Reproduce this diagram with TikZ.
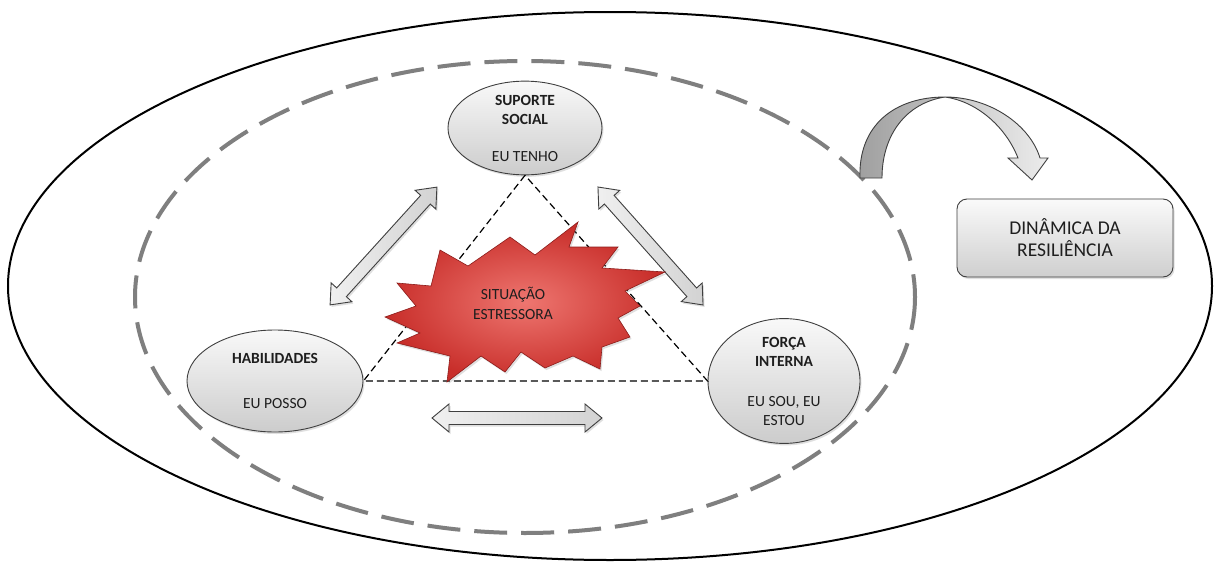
\documentclass[tikz,border=0pt]{standalone}
\usepackage{fontspec}
\setmainfont{Carlito}
\usetikzlibrary{shapes.geometric,shadows}

\definecolor{ink}{HTML}{1E1E1E}
\definecolor{rimgray}{HTML}{3F3F3F}
\definecolor{dashgray}{HTML}{7F7F7F}
\definecolor{burstlight}{RGB}{238,118,112}
\definecolor{burstdark}{RGB}{200,46,42}
\definecolor{burstedge}{RGB}{140,28,26}

\tikzset{
  softshadow/.style={drop shadow={opacity=0.25,shadow xshift=1.5pt,shadow yshift=-2pt}},
  pillar/.style={ellipse, draw=rimgray, line width=0.9pt, top color=gray!5,
    bottom color=gray!40, softshadow, text=ink, align=center, inner sep=0pt,
    font=\fontsize{15.5}{19}\selectfont},
  arrowrim/.style={draw=rimgray, line width=0.9pt, left color=gray!12,
    right color=gray!35, softshadow},
  pics/twoway/.style={code={
    \path[arrowrim] ({-#1/2},0) -- ({-#1/2+17},14) -- ({-#1/2+17},6.5)
      -- ({#1/2-17},6.5) -- ({#1/2-17},14) -- ({#1/2},0) -- ({#1/2-17},-14)
      -- ({#1/2-17},-6.5) -- ({-#1/2+17},-6.5) -- ({-#1/2+17},-14) -- cycle;
  }},
  triangleedge/.style={draw=black, line width=1.2pt, dash pattern=on 7pt off 4pt},
  halo/.style={draw=dashgray, line width=4pt, dash pattern=on 33pt off 14pt},
  resbox/.style={draw=rimgray, line width=0.9pt, rounded corners=10pt,
    top color=gray!4, bottom color=gray!38, softshadow, text=ink, align=center,
    minimum width=216pt, minimum height=78pt,
    font=\fontsize{19.5}{22}\selectfont},
}

\begin{document}
\begin{tikzpicture}[x=1pt,y=-1pt]
  \useasboundingbox (0,0) rectangle (1219,570);
  \fill[white] (0,0) rectangle (1219,570);

  % outer and inner (dashed) ellipses
  \draw[line width=2pt] (610,286) ellipse [x radius=602, y radius=274];
  \draw[halo] (525,297) ellipse [x radius=390, y radius=236];

  % the three pillars
  \node[pillar, minimum width=154pt, minimum height=92pt] (sup) at (525,128)
    {\bfseries SUPORTE\\\bfseries SOCIAL\\[18pt]EU TENHO};
  \node[pillar, minimum width=176pt, minimum height=102pt] (hab) at (275,381)
    {\bfseries HABILIDADES\\[26pt]EU POSSO};
  \node[pillar, minimum width=152pt, minimum height=98pt] (forca) at (784,381)
    {\bfseries FORÇA\\\bfseries INTERNA\\[21pt]EU SOU, EU\\ESTOU};

  % dashed triangle linking the pillars
  \draw[triangleedge] (sup.south) -- (hab.east) -- (forca.west) -- cycle;

  % two-way arrows between the pillars
  \pic[rotate=47.8] at (383.5,246) {twoway=159};
  \pic[rotate=-48.3] at (650.5,246) {twoway=158};
  \pic at (517,418) {twoway=170};

  % stress burst
  \path[draw=burstedge, line width=0.6pt, inner color=burstlight,
        outer color=burstdark, softshadow]
    (578,222) -- (569,247) -- (618,247) -- (602,268) -- (665,272)
    -- (625,291) -- (640,306) -- (618,318) -- (630,337) -- (602,347)
    -- (600,369) -- (573,356) -- (545,368) -- (521,352) -- (505,372)
    -- (481,356) -- (447,382) -- (450,356) -- (397,343) -- (420,333)
    -- (385,317) -- (416,306) -- (397,283) -- (431,286) -- (440,250)
    -- (468,266) -- (510,237) -- (535,255) -- cycle;
  \node[text=ink, align=center, font=\fontsize{15.5}{20}\selectfont] (burst)
    at (513,303) {SITUAÇÃO\\ESTRESSORA};

  % curved arrow towards the resilience box
  \path[draw=rimgray, line width=0.9pt, left color=gray!75, right color=gray!50]
    (860,178) .. controls (858,125) and (895,97) .. (945,97)
    .. controls (906,103) and (882,135) .. (882,178) -- cycle;
  \path[draw=rimgray, line width=0.9pt, left color=gray!45, right color=gray!15]
    (945,97) .. controls (990,97) and (1030,125) .. (1040,158)
    -- (1048,158) -- (1032,180) -- (1008,158) -- (1018,158)
    .. controls (1005,125) and (975,101) .. (945,97) -- cycle;

  \node[resbox] (din) at (1065,238) {DINÂMICA DA\\RESILIÊNCIA};
\end{tikzpicture}
\end{document}
